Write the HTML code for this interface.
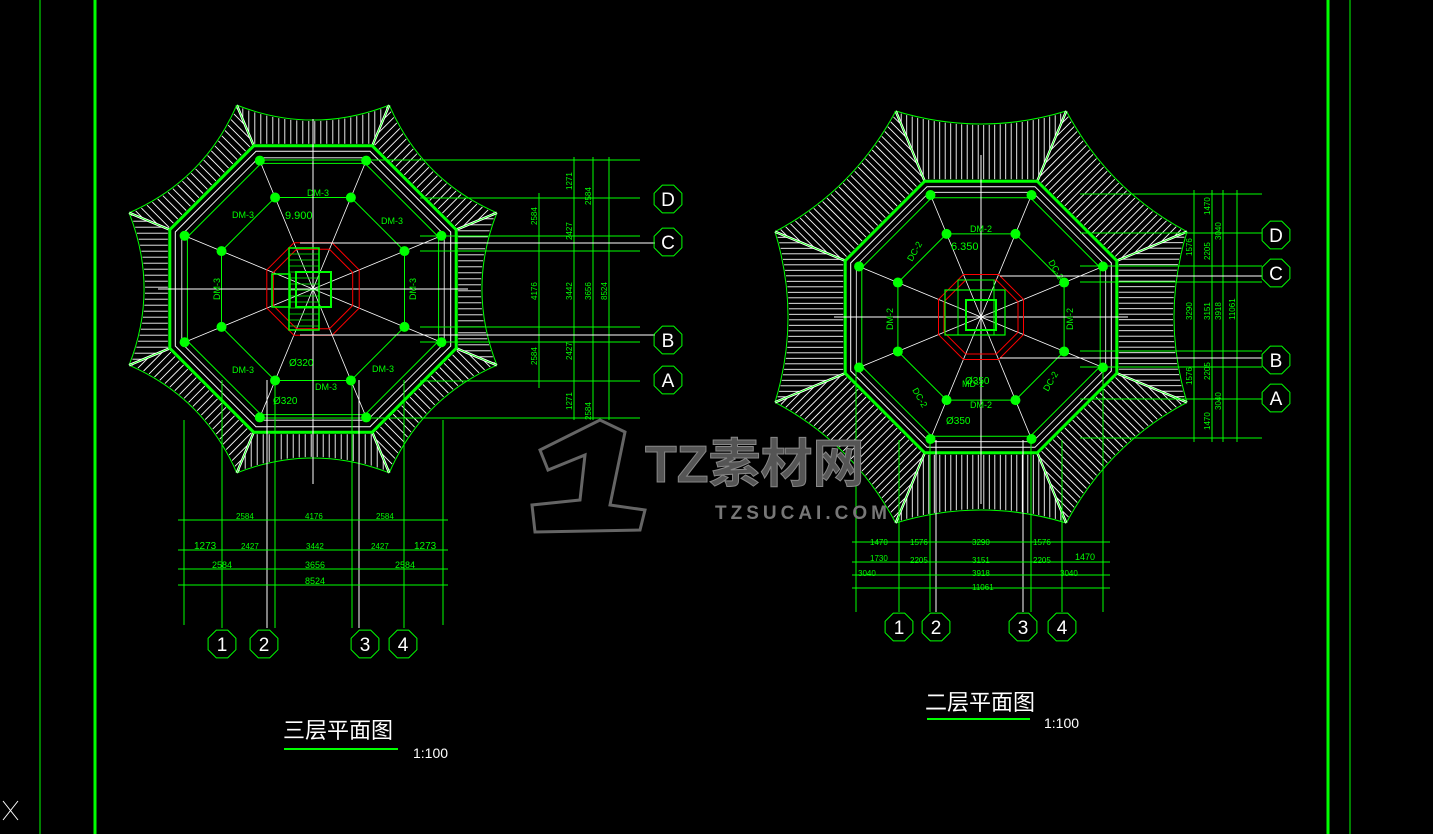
<!DOCTYPE html>
<html><head><meta charset="utf-8">
<style>
html,body{margin:0;padding:0;background:#000;overflow:hidden}
svg{display:block}
text{font-family:"Liberation Sans","Noto Sans CJK SC",sans-serif}
</style></head>
<body>
<svg id="s" width="1433" height="834" viewBox="0 0 1433 834" xmlns="http://www.w3.org/2000/svg">
<rect width="1433" height="834" fill="#000"/>
<line x1="40" y1="0" x2="40" y2="834" stroke="#00ff00" stroke-width="1"/>
<line x1="95" y1="0" x2="95" y2="834" stroke="#00ff00" stroke-width="3"/>
<line x1="1328" y1="0" x2="1328" y2="834" stroke="#00ff00" stroke-width="3"/>
<line x1="1350" y1="0" x2="1350" y2="834" stroke="#00ff00" stroke-width="1"/>
<path d="M3,801 L18,820 M18,801 L3,820" stroke="#fff" stroke-width="1"/>
<g id="g"></g>
<!-- watermark -->
<g fill="none" stroke="#777" stroke-width="3" opacity="0.85">
<path d="M540,450 L600,420 L625,432 L610,505 L645,510 L640,530 L535,532 L532,505 L580,500 L585,455 L548,470 Z"/>
</g>
<text x="645" y="482" font-size="52" font-weight="bold" fill="#555" stroke="#888" stroke-width="1">TZ素材网</text>
<text x="715" y="519" font-size="19" font-weight="bold" fill="#777" letter-spacing="4">TZSUCAI.COM</text>
<!-- titles -->
<text x="283" y="738" font-size="22" fill="#fff" font-family="Noto Sans CJK SC,sans-serif">三层平面图</text>
<line x1="284" y1="749" x2="398" y2="749" stroke="#00ff00" stroke-width="2"/>
<text x="413" y="758" font-size="14" fill="#fff">1:100</text>
<text x="925" y="710" font-size="22" fill="#fff" font-family="Noto Sans CJK SC,sans-serif">二层平面图</text>
<line x1="927" y1="719" x2="1030" y2="719" stroke="#00ff00" stroke-width="2"/>
<text x="1044" y="728" font-size="14" fill="#fff">1:100</text>
</svg>
<script>
var G=document.getElementById('g'),h='';
function L(a,b,c,d,col,w){h+='<line x1="'+a.toFixed(1)+'" y1="'+b.toFixed(1)+'" x2="'+c.toFixed(1)+'" y2="'+d.toFixed(1)+'" stroke="'+(col||'#0f0')+'" stroke-width="'+(w||1)+'"/>';}
function T(x,y,s,sz,col,rot){h+='<text x="'+x+'" y="'+y+'" font-size="'+(sz||9)+'" fill="'+(col||'#0f0')+'"'+(rot?' transform="rotate('+rot+' '+x+' '+y+')"':'')+'>'+s+'</text>';}
function C(x,y,r,col){h+='<circle cx="'+x+'" cy="'+y+'" r="'+r+'" fill="'+(col||'#0f0')+'"/>';}
function bub(x,y,s){var p=[];for(var i=0;i<8;i++){var a=Math.PI/8+i*Math.PI/4;p.push((x+15*Math.cos(a)).toFixed(1)+','+(y+15*Math.sin(a)).toFixed(1));}
 h+='<polygon points="'+p.join(' ')+'" fill="none" stroke="#0f0"/>';h+='<text x="'+x+'" y="'+(y+7)+'" font-size="19" fill="#fff" text-anchor="middle">'+s+'</text>';}
function oct(cx,cy,r,col,w){var p=[];for(var k=0;k<8;k++){var a=(-90-22.5+45*k)*Math.PI/180;p.push((cx+r*Math.cos(a)).toFixed(1)+','+(cy+r*Math.sin(a)).toFixed(1));}
 h+='<polygon points="'+p.join(' ')+'" fill="none" stroke="'+col+'" stroke-width="'+(w||1)+'"/>';}
function V(cx,cy,r,k){var a=(-90-22.5+45*k)*Math.PI/180;return [cx+r*Math.cos(a),cy+r*Math.sin(a)];}
function plan(cx,cy,rCol,rIn,rE,rT,rC,step){
 var s=Math.sin(Math.PI/8),c=Math.cos(Math.PI/8);
 for(var k=0;k<8;k++){
  var th=(-90+45*k)*Math.PI/180,ox=Math.cos(th),oy=Math.sin(th),px=-oy,py=ox;
  function P(u,v){return [cx+u*px+v*ox,cy+u*py+v*oy];}
  var eu=rE*s,ev=rE*c,tu=rT*s,tv=rT*c;
  for(var u=-tu+step;u<tu;u+=step){
   var au=Math.abs(u),vin=au<eu?ev+2:ev+(au-eu)*(tv-ev)/(tu-eu)+2;
   var t=(u/tu+1)/2,vout=(1-t)*(1-t)*tv+2*t*(1-t)*rC+t*t*tv-1;
   if(vout>vin){var a=P(u,vin),b=P(u,vout);L(a[0],a[1],b[0],b[1],'#fff',0.9);}
  }
  var a=P(-tu,tv),m=P(0,rC),b=P(tu,tv);
  h+='<path d="M'+a[0].toFixed(1)+','+a[1].toFixed(1)+' Q'+m[0].toFixed(1)+','+m[1].toFixed(1)+' '+b[0].toFixed(1)+','+b[1].toFixed(1)+'" fill="none" stroke="#0f0" stroke-width="1"/>';
  var e=V(cx,cy,rE,k),tp=V(cx,cy,rT,k);
  L(e[0],e[1],tp[0],tp[1],'#fff',2.5);L(e[0],e[1],tp[0],tp[1],'#0f0',0.8);
  var q=V(cx,cy,rCol,k);L(cx,cy,q[0],q[1],'#fff',0.8);
 }
 oct(cx,cy,rE,'#0f0',3);oct(cx,cy,rE-3,'#000',1);oct(cx,cy,rE-6,'#fff',1);
 oct(cx,cy,rCol-3,'#0f0',1);oct(cx,cy,rCol+3,'#fff',0.8);
 oct(cx,cy,rIn,'#0f0',1);
 for(var k=0;k<8;k++){var q=V(cx,cy,rCol,k);C(q[0],q[1],5);var r=V(cx,cy,rIn,k);C(r[0],r[1],5);}
 L(cx-rE,cy,cx+rE,cy,'#fff',1);L(cx,cy-rE-15,cx,cy+rE+40,'#fff',1);
}
var lx=313,ly=289;
plan(lx,ly,139,99,155,199,154,6);
oct(lx,ly,50,'#f00',1);oct(lx,ly,43,'#f00',1);
h+='<rect x="296" y="272" width="35" height="35" fill="none" stroke="#0f0" stroke-width="2"/>';
h+='<rect x="289" y="248" width="30" height="82" fill="none" stroke="#0f0" stroke-width="1.5"/>';
h+='<rect x="272" y="274" width="18" height="33" fill="none" stroke="#0f0" stroke-width="1.5"/>';
for(var y=254;y<330;y+=6)L(289,y,319,y,'#0f0',0.8);
T(307,196,'DM-3',9);T(232,218,'DM-3',9);T(381,224,'DM-3',9);T(232,373,'DM-3',9);T(372,372,'DM-3',9);T(315,390,'DM-3',9);
T(285,219,'9.900',11,'#0f0');T(289,366,'Ø320',10);T(273,404,'Ø320',10);
T(220,300,'DM-3',9,'#0f0',-90);T(416,300,'DM-3',9,'#0f0',-90);
var dx=[539,574,593,609];
dx.forEach(function(x,i){L(x,i==0?193:157,x,i==0?388:420);});
[160,198,236,251,327,342,381,418].forEach(function(y){L(420,y,640,y);});
L(300,243,655,243,'#fff',1);L(300,335,655,335,'#fff',1);
L(255,160,620,160);L(255,418,620,418);
bub(668,199,'D');bub(668,242,'C');bub(668,340,'B');bub(668,380,'A');
T(572,190,'1271',8,'#0f0',-90);T(572,240,'2427',8,'#0f0',-90);T(572,300,'3442',8,'#0f0',-90);T(572,360,'2427',8,'#0f0',-90);T(572,410,'1271',8,'#0f0',-90);
T(537,225,'2584',8,'#0f0',-90);T(537,300,'4176',8,'#0f0',-90);T(537,365,'2584',8,'#0f0',-90);
T(591,205,'2584',8,'#0f0',-90);T(591,300,'3656',8,'#0f0',-90);T(607,300,'8524',8,'#0f0',-90);T(591,420,'2584',8,'#0f0',-90);
[184,222,267,275,352,359,404,443].forEach(function(x){var w=(x==267||x==359)?'#fff':'#0f0';L(x,x==184||x==443?420:380,x,(x==267||x==359||x==275||x==352)?628:625,w);});
L(222,418,222,628);L(404,418,404,628);
[520,550,569,585].forEach(function(y){L(178,y,448,y);});
T(236,519,'2584',8);T(305,519,'4176',8);T(376,519,'2584',8);
T(194,549,'1273',10);T(241,549,'2427',8);T(306,549,'3442',8);T(371,549,'2427',8);T(414,549,'1273',10);
T(212,568,'2584',9);T(305,568,'3656',9);T(395,568,'2584',9);T(305,584,'8524',9);
bub(222,644,'1');bub(264,644,'2');bub(365,644,'3');bub(403,644,'4');
var rx=981,ry=317;
plan(rx,ry,132,90,147,223,180,5.5);
oct(rx,ry,46,'#f00',1);oct(rx,ry,40,'#f00',1);
h+='<rect x="966" y="300" width="30" height="30" fill="none" stroke="#0f0" stroke-width="2"/>';
h+='<rect x="945" y="290" width="60" height="45" fill="none" stroke="#0f0" stroke-width="1.2"/>';
h+='<rect x="958" y="280" width="36" height="55" fill="none" stroke="#0f0" stroke-width="1"/>';
T(970,232,'DM-2',9);T(970,408,'DM-2',9);T(962,387,'MD-1',9);T(965,384,'Ø350',10);T(946,424,'Ø350',10);T(951,250,'6.350',11,'#0f0');
T(912,262,'DC-2',9,'#0f0',-60);T(1048,262,'DC-2',9,'#0f0',60);T(912,390,'DC-2',9,'#0f0',60);T(1048,392,'DC-2',9,'#0f0',-60);
T(893,330,'DM-2',9,'#0f0',-90);T(1073,330,'DM-2',9,'#0f0',-90);
[1194,1212,1223,1237].forEach(function(x){L(x,190,x,442);});
[194,233,266,282,351,367,399,438].forEach(function(y){L(1080,y,1262,y);});
L(1000,276,1262,276,'#fff');L(1000,358,1262,358,'#fff');
bub(1276,235,'D');bub(1276,273,'C');bub(1276,360,'B');bub(1276,398,'A');
T(1192,256,'1576',8,'#0f0',-90);T(1192,320,'3290',8,'#0f0',-90);T(1192,385,'1576',8,'#0f0',-90);
T(1210,215,'1470',8,'#0f0',-90);T(1210,260,'2205',8,'#0f0',-90);T(1210,320,'3151',8,'#0f0',-90);T(1210,380,'2205',8,'#0f0',-90);T(1210,430,'1470',8,'#0f0',-90);
T(1221,240,'3040',8,'#0f0',-90);T(1221,320,'3918',8,'#0f0',-90);T(1221,410,'3040',8,'#0f0',-90);T(1235,320,'11061',8,'#0f0',-90);
[856,899,930,936,1023,1031,1062,1103].forEach(function(x){var w=(x==936||x==1023)?'#fff':'#0f0';L(x,x==856||x==1103?370:440,x,612,w);});
[542,562,575,588].forEach(function(y){L(852,y,1110,y);});
T(870,545,'1470',8);T(910,545,'1576',8);T(972,545,'3290',8);T(1033,545,'1576',8);T(1075,560,'1470',9);
T(870,561,'1730',8);T(910,563,'2205',8);T(972,563,'3151',8);T(1033,563,'2205',8);
T(858,576,'3040',8);T(972,576,'3918',8);T(1060,576,'3040',8);T(972,590,'11061',8);
bub(899,627,'1');bub(936,627,'2');bub(1023,627,'3');bub(1062,627,'4');
G.innerHTML=h;
</script>
</body></html>
